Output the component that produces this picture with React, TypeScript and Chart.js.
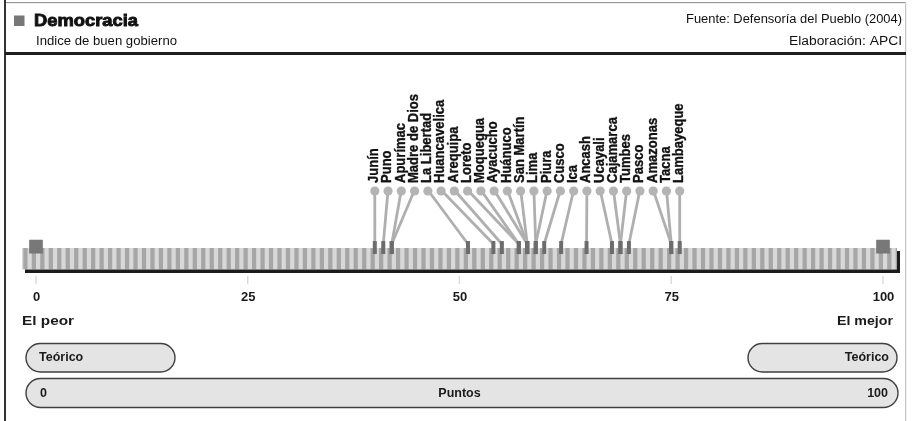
import React, { useEffect, useRef } from "react";
import { Chart, registerables } from "chart.js";

Chart.register(...registerables);

// ---- data ----
const regions = [
  "Junín", "Puno", "Apurímac", "Madre de Dios", "La Libertad", "Huancavelica",
  "Arequipa", "Loreto", "Moquegua", "Ayacucho", "Huánuco", "San Martín",
  "Lima", "Piura", "Cusco", "Ica", "Ancash", "Ucayali", "Cajamarca", "Tumbes",
  "Pasco", "Amazonas", "Tacna", "Lambayeque",
];
const scores = [
  40, 41, 42, 42, 51, 54,
  55, 57, 57, 58, 58, 58,
  59, 59, 60, 62, 65, 68, 69, 69,
  70, 75, 75, 76,
];
const tickValues = [0, 25, 50, 75, 100];
const scaleEnds = [0, 100];
const endLabels = ["El peor", "El mejor"];
const theoryLabel = "Teórico";
const pointsLabel = "Puntos";
const titleText = "Democracia";
const subtitleText = "Indice de buen gobierno";
const sourceText = "Fuente: Defensoría del Pueblo (2004)";
const creditText = "Elaboración: APCI";

const W = 914;
const H = 421;
const FONT = "'Liberation Sans', Arial, Helvetica, sans-serif";

function pill(ctx: CanvasRenderingContext2D, x: number, y: number, w: number, h: number) {
  const r = h / 2;
  ctx.beginPath();
  ctx.moveTo(x + r, y);
  ctx.lineTo(x + w - r, y);
  ctx.arc(x + w - r, y + r, r, -Math.PI / 2, Math.PI / 2);
  ctx.lineTo(x + r, y + h);
  ctx.arc(x + r, y + r, r, Math.PI / 2, (3 * Math.PI) / 2);
  ctx.closePath();
  ctx.fillStyle = "#e4e4e4";
  ctx.fill();
  ctx.lineWidth = 1.4;
  ctx.strokeStyle = "#404040";
  ctx.stroke();
}

function fitText(
  ctx: CanvasRenderingContext2D, text: string, x: number, y: number,
  width: number, font: string, align: "left" | "right", weightStroke = 0
) {
  ctx.save();
  ctx.font = font;
  ctx.textBaseline = "middle";
  ctx.textAlign = "left";
  const m = ctx.measureText(text).width;
  const sx = width / m;
  const left = align === "left" ? x : x - width;
  ctx.translate(left, y);
  ctx.scale(sx, 1);
  ctx.fillText(text, 0, 0);
  if (weightStroke > 0) {
    ctx.lineWidth = weightStroke;
    ctx.strokeStyle = ctx.fillStyle as string;
    ctx.strokeText(text, 0, 0);
  }
  ctx.restore();
}

export default function App() {
  const ref = useRef<HTMLCanvasElement>(null);

  useEffect(() => {
    document.body.style.margin = "0";
    const canvas = ref.current!;
    const minV = Math.min(...scores);
    const maxV = Math.max(...scores);
    const labelPos = regions.map(
      (_, i) => minV + (i * (maxV - minV)) / (regions.length - 1)
    );

    const CIRCLE_Y = 190;
    const MARK_Y = 249.5;
    const BAR_TOP = 248;
    const BAR_BOTTOM = 269.5;

    const decor = {
      id: "decor",
      beforeDatasetsDraw(chart: any) {
        const ctx: CanvasRenderingContext2D = chart.ctx;
        const xs = chart.scales.x;
        const px = (v: number) => xs.getPixelForValue(v);
        ctx.save();
        ctx.fillStyle = "#ffffff";
        ctx.fillRect(0, 0, W, H);

        // frame
        ctx.fillStyle = "#9a9a9a";
        ctx.fillRect(5, 2, 901, 1.2);
        ctx.fillStyle = "#c4c4c4";
        ctx.fillRect(905, 2, 1.2, H);
        ctx.fillStyle = "#333";
        ctx.fillRect(4, 0, 2, H);
        ctx.fillStyle = "#1e1e1e";
        ctx.fillRect(5, 52, 901, 3);

        // header
        ctx.fillStyle = "#777";
        ctx.fillRect(14, 15.5, 10.5, 10.5);
        ctx.fillStyle = "#111";
        fitText(ctx, titleText, 34, 21.5, 104, `bold 17px ${FONT}`, "left", 0.9);
        fitText(ctx, subtitleText, 36, 41.5, 141, `12.5px ${FONT}`, "left");
        fitText(ctx, sourceText, 902, 19.5, 216, `12.5px ${FONT}`, "right");
        fitText(ctx, creditText, 902, 41.5, 113, `12.5px ${FONT}`, "right");

        // striped bar
        const barL = px(scaleEnds[0]) - 14;
        const barR = px(scaleEnds[1]) + 14;
        ctx.save();
        ctx.beginPath();
        ctx.rect(barL, BAR_TOP, barR - barL, BAR_BOTTOM - BAR_TOP);
        ctx.clip();
        ctx.fillStyle = "#d8d8d8";
        ctx.fillRect(barL, BAR_TOP, barR - barL, BAR_BOTTOM - BAR_TOP);
        ctx.fillStyle = "#a6a6a6";
        for (let i = scaleEnds[0] - 3; i <= scaleEnds[1] + 3; i++) {
          const a = px(i + 0.5);
          const b = px(i + 1);
          ctx.fillRect(a, BAR_TOP, b - a, BAR_BOTTOM - BAR_TOP);
        }
        ctx.restore();
        ctx.fillStyle = "#1c1c1c";
        ctx.fillRect(barL + 3, BAR_BOTTOM, barR - barL, 3.5);
        ctx.fillRect(barR, BAR_TOP + 3, 3, BAR_BOTTOM - BAR_TOP);

        // tick marks + labels
        ctx.strokeStyle = "#dcdcdc";
        ctx.lineWidth = 1.5;
        ctx.fillStyle = "#1a1a1a";
        ctx.font = `bold 13px ${FONT}`;
        ctx.textAlign = "center";
        ctx.textBaseline = "middle";
        tickValues.forEach((t) => {
          const x = px(t);
          ctx.beginPath();
          ctx.moveTo(x, 276);
          ctx.lineTo(x, 284);
          ctx.stroke();
          ctx.fillText(String(t), x + 0.5, 297);
        });
        fitText(ctx, endLabels[0], barL, 321, 52, `bold 13.5px ${FONT}`, "left");
        fitText(ctx, endLabels[1], barR - 4, 321, 56, `bold 13.5px ${FONT}`, "right");

        // pills
        ctx.font = `bold 12.5px ${FONT}`;
        pill(ctx, barL + 4, 343.5, 149, 28.5);
        pill(ctx, barR - 149, 343.5, 149, 28.5);
        pill(ctx, barL + 4, 378.5, barR - barL - 3, 29);
        ctx.fillStyle = "#1a1a1a";
        ctx.textAlign = "left";
        ctx.fillText(theoryLabel, barL + 17, 358);
        ctx.fillText(String(scaleEnds[0]), barL + 18, 393.5);
        ctx.textAlign = "right";
        ctx.fillText(theoryLabel, barR - 8, 358);
        ctx.fillText(String(scaleEnds[1]), barR - 9, 393.5);
        ctx.textAlign = "center";
        ctx.fillText(pointsLabel, px(50), 393.5);

        // connectors
        ctx.strokeStyle = "#afafaf";
        ctx.lineWidth = 2.8;
        ctx.lineCap = "butt";
        regions.forEach((_, i) => {
          ctx.beginPath();
          ctx.moveTo(px(labelPos[i]), CIRCLE_Y);
          ctx.lineTo(px(scores[i]), 244);
          ctx.stroke();
        });

        // rotated labels
        ctx.fillStyle = "#111";
        ctx.strokeStyle = "#111";
        ctx.lineWidth = 0.35;
        ctx.font = `bold 14px ${FONT}`;
        ctx.textAlign = "left";
        ctx.textBaseline = "middle";
        regions.forEach((name, i) => {
          ctx.save();
          ctx.translate(px(labelPos[i]) - 0.5, 183);
          ctx.rotate(-Math.PI / 2);
          ctx.scale(0.93, 1);
          ctx.fillText(name, 0, 0);
          ctx.strokeText(name, 0, 0);
          ctx.restore();
        });
        ctx.restore();
      },
    };

    const chart = new Chart(canvas, {
      type: "scatter",
      data: {
        datasets: [
          {
            label: "ends",
            data: scaleEnds.map((v) => ({ x: v, y: 248.5 })),
            pointStyle: "rect",
            pointRadius: 9.3,
            backgroundColor: "#787878",
            borderColor: "#6a6a6a",
            borderWidth: 0.5,
            clip: false,
          },
          {
            label: "markers",
            data: scores.map((v) => ({ x: v, y: MARK_Y })),
            pointStyle: "line",
            rotation: 90,
            pointRadius: 6.5,
            borderWidth: 4,
            borderColor: "#6c6c6c",
            clip: false,
          },
          {
            label: "heads",
            data: labelPos.map((v) => ({ x: v, y: CIRCLE_Y })),
            pointStyle: "circle",
            pointRadius: 4.6,
            backgroundColor: "#b4b4b4",
            borderWidth: 0,
            clip: false,
          },
        ],
      },
      options: {
        animation: false,
        responsive: false,
        devicePixelRatio: 1,
        layout: { padding: { left: 36, right: 31, top: 0, bottom: 0 } },
        scales: {
          x: { type: "linear", min: 0, max: 100, display: false },
          y: { type: "linear", min: 0, max: H, reverse: true, display: false },
        },
        plugins: { legend: { display: false }, tooltip: { enabled: false } },
        events: [],
      },
      plugins: [decor],
    });
    return () => chart.destroy();
  }, []);

  return <canvas ref={ref} width={W} height={H} style={{ display: "block" }} />;
}
